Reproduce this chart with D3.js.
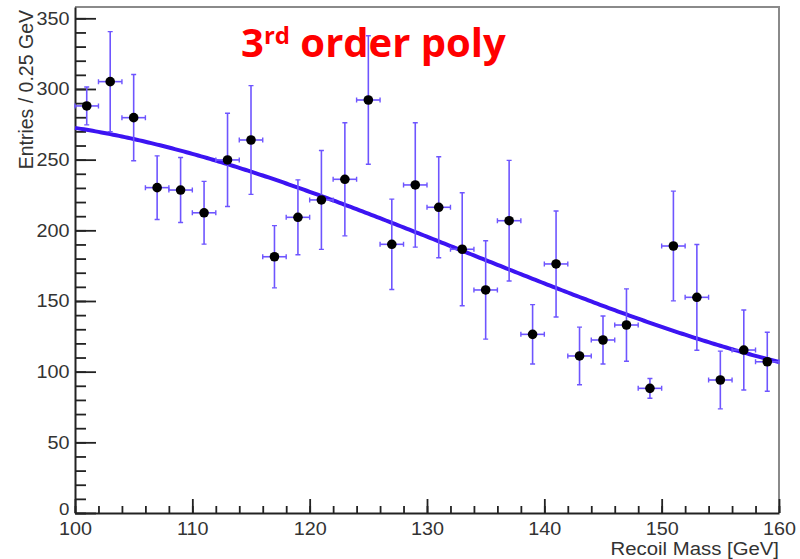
<!DOCTYPE html>
<html>
<head>
<meta charset="utf-8">
<script src="https://cdn.jsdelivr.net/npm/d3@7/dist/d3.min.js"></script>
<style>
  html, body { margin: 0; padding: 0; background: #fff; }
  svg { display: block; }
</style>
</head>
<body>
<svg id="chart" width="800" height="559"></svg>
<script>
// Recoil mass histogram: bin centres (GeV), entries and their uncertainties
const binCenters = [101, 103, 105, 107, 109, 111, 113, 115, 117, 119,
                    121, 123, 125, 127, 129, 131, 133, 135, 137, 139,
                    141, 143, 145, 147, 149, 151, 153, 155, 157, 159];
const entries    = [288.0, 305.2, 279.7, 230.2, 228.5, 212.4, 249.8, 263.9, 181.3, 209.2,
                    221.5, 236.1, 292.2, 190.1, 232.1, 216.3, 186.6, 157.8, 206.8, 126.4,
                    176.2, 111.1, 122.4, 133.0,  88.2, 188.9, 152.6,  94.1, 115.3, 107.0];
const errors     = [13.4, 35.4, 30.5, 22.5, 23.0, 22.2, 33.0, 38.5, 22.0, 26.5,
                    35.0, 40.0, 45.5, 32.0, 44.0, 35.7, 40.0, 34.8, 42.7, 21.0,
                    37.5, 20.4, 17.0, 25.6,  7.0, 38.8, 37.4, 20.4, 28.3, 20.9];
const binHalfWidth = 1;

// 3rd order polynomial fit, in (m - 130 GeV): p0 + p1 t + p2 t^2 + p3 t^3
const fitCenter = 130;
const fitParams = [195.5, -3.3, -0.0065, 0.0006];

// Axis ticks
const xMajorTicks = [100, 110, 120, 130, 140, 150, 160];
const yMajorTicks = [0, 50, 100, 150, 200, 250, 300, 350];

const titleMain = "3";
const titleSup = "rd";
const titleRest = " order poly";
const xTitle = "Recoil Mass [GeV]";
const yTitle = "Entries / 0.25 GeV";

const svg = d3.select("#chart");
const frame = { left: 75, right: 779, top: 7, bottom: 513 };

const x = d3.scaleLinear().domain([100, 160]).range([frame.left, frame.right]);
const y = d3.scaleLinear().domain([0, 358]).range([frame.bottom, frame.top]);

const axisFont = "'Liberation Sans', Arial, Helvetica, sans-serif";
const axisInk = "#222";

// Frame (top & right edges in grey)
svg.append("path")
  .attr("d", `M${frame.left},${frame.top}H${frame.right}V${frame.bottom}`)
  .attr("fill", "none").attr("stroke", "#8a8a8a").attr("stroke-width", 2);

// X axis: minor then major ticks (drawn inward)
const xMinor = d3.range(100, 160.001, 2);
svg.append("g").attr("transform", `translate(0,${frame.bottom})`)
  .call(d3.axisBottom(x).tickValues(xMinor).tickSize(-7).tickSizeOuter(0).tickFormat(""))
  .call(g => g.select(".domain").remove())
  .call(g => g.selectAll(".tick line").attr("stroke", axisInk).attr("stroke-width", 1.8));
const gx = svg.append("g").attr("transform", `translate(0,${frame.bottom})`)
  .call(d3.axisBottom(x).tickValues(xMajorTicks).tickSize(-14).tickSizeOuter(0).tickPadding(9)
        .tickFormat(d3.format("d")));
gx.select(".domain").attr("stroke", axisInk).attr("stroke-width", 2);
gx.selectAll(".tick line").attr("stroke", axisInk).attr("stroke-width", 1.8);
gx.selectAll(".tick text")
  .attr("font-family", axisFont).attr("font-size", 18).attr("fill", "#333")
  .attr("transform", "scale(1.1,1)");

// Y axis
const yMinor = d3.range(0, 351, 10);
svg.append("g").attr("transform", `translate(${frame.left},0)`)
  .call(d3.axisLeft(y).tickValues(yMinor).tickSize(-11).tickSizeOuter(0).tickFormat(""))
  .call(g => g.select(".domain").remove())
  .call(g => g.selectAll(".tick line").attr("stroke", axisInk).attr("stroke-width", 1.8));
const gy = svg.append("g").attr("transform", `translate(${frame.left},0)`)
  .call(d3.axisLeft(y).tickValues(yMajorTicks).tickSize(-21).tickSizeOuter(0).tickPadding(5)
        .tickFormat(d3.format("d")));
gy.select(".domain").attr("stroke", axisInk).attr("stroke-width", 2);
gy.selectAll(".tick line").attr("stroke", axisInk).attr("stroke-width", 1.8);
gy.selectAll(".tick text")
  .attr("font-family", axisFont).attr("font-size", 18).attr("fill", "#333")
  .attr("transform", "scale(1.1,1)");
// keep the "0" label clear of the x axis labels below it
gy.selectAll(".tick text").filter(d => d === 0)
  .attr("dy", "0.1em").attr("font-size", 17);

// Axis titles
svg.append("text")
  .attr("x", frame.right).attr("y", 555)
  .attr("text-anchor", "end")
  .attr("font-family", axisFont).attr("font-size", 18.5).attr("fill", "#333")
  .attr("transform", `translate(${frame.right},0) scale(1.1,1) translate(${-frame.right},0)`)
  .text(xTitle);
svg.append("text")
  .attr("transform", "translate(33,10) rotate(-90)")
  .attr("text-anchor", "end")
  .attr("font-family", axisFont).attr("font-size", 19.5).attr("fill", "#333")
  .text(yTitle);

// Fit curve
const poly = m => {
  const t = m - fitCenter;
  return fitParams.reduce((s, p, i) => s + p * Math.pow(t, i), 0);
};
const fitMasses = d3.range(100, 160.0001, 0.25);
svg.append("path")
  .datum(fitMasses)
  .attr("fill", "none")
  .attr("stroke", "#3c14f2")
  .attr("stroke-width", 4)
  .attr("d", d3.line().x(m => x(m)).y(m => y(poly(m))));

// Data points with error bars
const pts = binCenters.map((c, i) => ({ c, v: entries[i], e: errors[i] }));
const barColor = "#6e55ff";
const cap = 2.5;
const gp = svg.append("g");
const pg = gp.selectAll("g").data(pts).join("g");
pg.append("line")
  .attr("x1", d => x(d.c)).attr("x2", d => x(d.c))
  .attr("y1", d => y(d.v - d.e)).attr("y2", d => y(d.v + d.e))
  .attr("stroke", barColor).attr("stroke-width", 1.6);
pg.append("line")
  .attr("x1", d => x(d.c - binHalfWidth)).attr("x2", d => x(d.c + binHalfWidth))
  .attr("y1", d => y(d.v)).attr("y2", d => y(d.v))
  .attr("stroke", barColor).attr("stroke-width", 1.6);
// end caps
pg.append("path")
  .attr("d", d => {
    const cx = x(d.c), cy = y(d.v);
    const lo = y(d.v - d.e), hi = y(d.v + d.e);
    const xl = x(d.c - binHalfWidth), xr = x(d.c + binHalfWidth);
    return `M${cx - cap},${lo}H${cx + cap}M${cx - cap},${hi}H${cx + cap}` +
           `M${xl},${cy - cap}V${cy + cap}M${xr},${cy - cap}V${cy + cap}`;
  })
  .attr("fill", "none").attr("stroke", barColor).attr("stroke-width", 1.4);
pg.append("circle")
  .attr("cx", d => x(d.c)).attr("cy", d => y(d.v))
  .attr("r", 4.8).attr("fill", "#000");

// Title
const title = svg.append("text")
  .attr("x", 241).attr("y", 57)
  .attr("font-family", "'Open Sans', Lato, sans-serif")
  .attr("font-weight", 700).attr("font-size", 40).attr("fill", "#ff0000");
title.append("tspan").text(titleMain);
title.append("tspan").attr("font-size", 24).attr("dy", -13).text(titleSup);
title.append("tspan").attr("dy", 13).text(titleRest);
</script>
</body>
</html>
